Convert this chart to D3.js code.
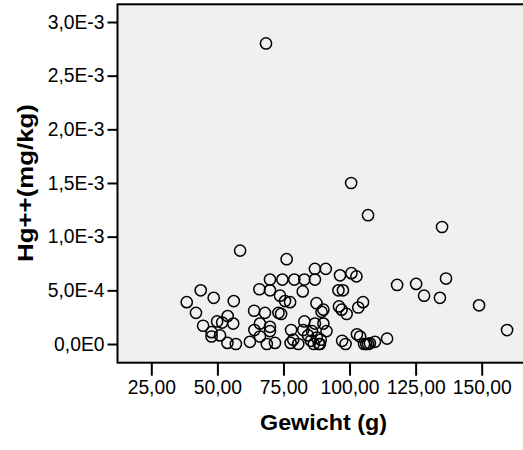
<!DOCTYPE html>
<html>
<head>
<meta charset="utf-8">
<script src="https://cdn.jsdelivr.net/npm/d3@7"></script>
<style>
  body { margin: 0; background: #fff; }
  svg { display: block; font-family: "Liberation Sans", Arial, sans-serif; }
</style>
</head>
<body>
<main></main>
<script>
const width = 523;
const height = 450;

// Gewicht (g)
const gewicht = [
  68.4, 100.6, 107.0, 135.0, 58.6, 136.5, 125.2, 118.0, 128.2, 134.2, 149.0, 159.6,
  114.2, 109.6, 107.0, 105.5, 107.7, 102.8, 104.0, 97.2, 98.5, 105.1, 103.3, 98.9,
  96.0, 97.0, 95.8, 97.5, 96.4, 100.7, 102.6, 91.0, 86.9, 86.9, 82.9, 79.1,
  74.6, 69.9, 82.3, 76.2, 65.9, 69.9, 73.7, 75.6, 77.5, 87.5, 89.4, 90.1,
  86.9, 91.3, 63.9, 68.0, 73.1, 74.1, 69.9, 69.9, 66.1, 64.0, 62.3, 66.1,
  68.7, 71.8, 77.9, 82.9, 82.5, 78.7, 80.6, 77.7, 90.1, 88.8, 84.3, 85.4,
  86.5, 87.6, 85.8, 88.4, 89.1, 38.4, 43.7, 48.6, 41.9, 44.6, 49.9, 51.8,
  53.9, 56.0, 56.2, 47.8, 47.8, 51.0, 53.8, 57.0, 106.3
];
// Hg++ (mg/kg)
const hg = [
  2.80e-3, 1.50e-3, 1.20e-3, 1.09e-3, 0.87e-3, 0.61e-3, 0.56e-3, 0.55e-3, 0.45e-3, 0.43e-3, 0.36e-3, 0.13e-3,
  0.05e-3, 0.02e-3, 0.0, 0.0, 0.006e-3, 0.09e-3, 0.07e-3, 0.03e-3, 0.0, 0.39e-3, 0.34e-3, 0.28e-3,
  0.35e-3, 0.32e-3, 0.50e-3, 0.50e-3, 0.64e-3, 0.66e-3, 0.63e-3, 0.70e-3, 0.70e-3, 0.60e-3, 0.60e-3, 0.60e-3,
  0.60e-3, 0.60e-3, 0.49e-3, 0.79e-3, 0.51e-3, 0.50e-3, 0.45e-3, 0.40e-3, 0.39e-3, 0.38e-3, 0.30e-3, 0.19e-3,
  0.19e-3, 0.12e-3, 0.31e-3, 0.29e-3, 0.29e-3, 0.28e-3, 0.16e-3, 0.12e-3, 0.19e-3, 0.13e-3, 0.02e-3, 0.07e-3,
  0.0, 0.01e-3, 0.13e-3, 0.21e-3, 0.13e-3, 0.04e-3, 0.0, 0.01e-3, 0.32e-3, 0.0, 0.08e-3, 0.03e-3,
  0.0, 0.06e-3, 0.12e-3, 0.0, 0.04e-3, 0.39e-3, 0.50e-3, 0.43e-3, 0.29e-3, 0.17e-3, 0.21e-3, 0.20e-3,
  0.26e-3, 0.19e-3, 0.40e-3, 0.11e-3, 0.07e-3, 0.08e-3, 0.01e-3, 0.0, 0.0
];

const xTicks = [25, 50, 75, 100, 125, 150];
const xTickLabels = ['25,00', '50,00', '75,00', '100,00', '125,00', '150,00'];
const yTicks = [0, 0.5e-3, 1.0e-3, 1.5e-3, 2.0e-3, 2.5e-3, 3.0e-3];
const yTickLabels = ['0,0E0', '5,0E-4', '1,0E-3', '1,5E-3', '2,0E-3', '2,5E-3', '3,0E-3'];

const frame = { left: 117.5, top: 4.3, right: 532, bottom: 362.7 };

const svg = d3.select('main')
  .append('svg')
  .attr('width', width)
  .attr('height', height);

const xScale = d3.scaleLinear().domain([25, 150]).range([151.3, 481.7]);
const yScale = d3.scaleLinear().domain([0, 3e-3]).range([344, 22]);

// plot background and frame
svg.append('rect')
  .attr('x', frame.left)
  .attr('y', frame.top)
  .attr('width', frame.right - frame.left)
  .attr('height', frame.bottom - frame.top)
  .attr('fill', '#f0f0f0')
  .attr('stroke', '#000')
  .attr('stroke-width', 2);

// axes
const xAxis = svg.append('g')
  .attr('transform', 'translate(0,' + frame.bottom + ')')
  .call(d3.axisBottom(xScale)
    .tickValues(xTicks)
    .tickFormat((d, i) => xTickLabels[i])
    .tickSize(13)
    .tickPadding(5));

const yAxis = svg.append('g')
  .attr('transform', 'translate(' + frame.left + ',0)')
  .call(d3.axisLeft(yScale)
    .tickValues(yTicks)
    .tickFormat((d, i) => yTickLabels[i])
    .tickSize(10)
    .tickPadding(3));

[xAxis, yAxis].forEach(g => {
  g.select('.domain').remove();
  g.selectAll('.tick line').attr('stroke', '#000').attr('stroke-width', 2);
  g.selectAll('.tick text')
    .attr('fill', '#000')
    .style('font-size', '19.3px')
    .style('font-family', '"Liberation Sans", Arial, sans-serif');
});

// points
const points = gewicht.map((g, i) => ({ x: g, y: hg[i] }));

svg.append('g')
  .selectAll('circle')
  .data(points)
  .enter()
  .append('circle')
  .attr('cx', d => xScale(d.x))
  .attr('cy', d => yScale(d.y))
  .attr('r', 5.6)
  .attr('fill', 'none')
  .attr('stroke', '#000')
  .attr('stroke-width', 1.5);

// axis titles
svg.append('text')
  .attr('x', 323.5)
  .attr('y', 430)
  .attr('text-anchor', 'middle')
  .attr('textLength', 127)
  .attr('lengthAdjust', 'spacingAndGlyphs')
  .style('font-size', '22.5px')
  .style('font-weight', 'bold')
  .text('Gewicht (g)');

svg.append('text')
  .attr('transform', 'translate(33,183) rotate(-90)')
  .attr('text-anchor', 'middle')
  .attr('textLength', 158)
  .attr('lengthAdjust', 'spacingAndGlyphs')
  .style('font-size', '22.5px')
  .style('font-weight', 'bold')
  .text('Hg++(mg/kg)');
</script>
</body>
</html>
